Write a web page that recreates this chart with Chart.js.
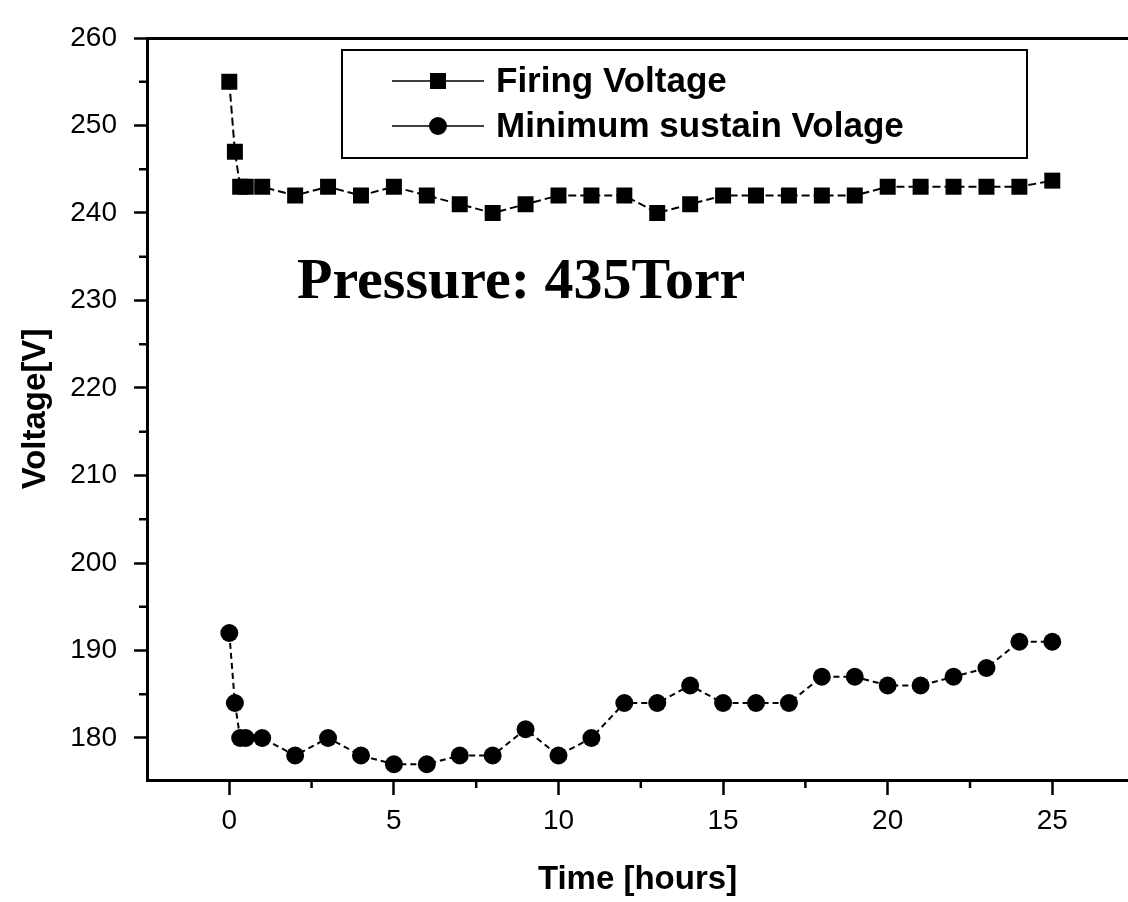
<!DOCTYPE html>
<html>
<head>
<meta charset="utf-8">
<script src="https://cdn.jsdelivr.net/npm/chart.js@4/dist/chart.umd.min.js"></script>
<style>
  html, body { margin: 0; padding: 0; background: #fff; overflow: hidden; }
  #wrap { width: 1128px; height: 902px; position: relative; }
  canvas { display: block; }
</style>
</head>
<body>
<div id="wrap"><canvas id="voltageChart"></canvas></div>
<script>
// time in hours
const hours = [0, 0.17, 0.33, 0.5, 1, 2, 3, 4, 5, 6, 7, 8, 9, 10, 11, 12, 13, 14, 15, 16, 17, 18, 19, 20, 21, 22, 23, 24, 25];
const firingVoltage = [255, 247, 243, 243, 243, 242, 243, 242, 243, 242, 241, 240, 241, 242, 242, 242, 240, 241, 242, 242, 242, 242, 242, 243, 243, 243, 243, 243, 243.7];
const sustainVoltage = [192, 184, 180, 180, 180, 178, 180, 178, 177, 177, 178, 178, 181, 178, 180, 184, 184, 186, 184, 184, 184, 187, 187, 186, 186, 187, 188, 191, 191];
const seriesNames = ['Firing Voltage', 'Minimum sustain Volage'];
const xMinorTicks = [2.5, 7.5, 12.5, 17.5, 22.5];
const yMinorTicks = [185, 195, 205, 215, 225, 235, 245, 255];
const noteText = 'Pressure: 435Torr';

const sans = '"Liberation Sans", Arial, sans-serif';
const serif = '"Liberation Serif", "Times New Roman", serif';

const toPoints = (xs, ys) => xs.map((x, i) => ({ x: x, y: ys[i] }));

// minor ticks, boxed legend and the pressure note
const extras = {
    id: 'extras',
    afterDraw(chart) {
        const ctx = chart.ctx;
        const xs = chart.scales.x, ys = chart.scales.y;
        ctx.save();
        ctx.strokeStyle = '#000';
        ctx.lineWidth = 2.5;
        xMinorTicks.forEach(v => {
            const px = xs.getPixelForValue(v);
            ctx.beginPath(); ctx.moveTo(px, xs.top); ctx.lineTo(px, xs.top + 8); ctx.stroke();
        });
        yMinorTicks.forEach(v => {
            const py = ys.getPixelForValue(v);
            ctx.beginPath(); ctx.moveTo(ys.right, py); ctx.lineTo(ys.right - 8, py); ctx.stroke();
        });

        // legend box
        ctx.lineWidth = 2;
        ctx.strokeRect(342, 50, 685, 108);
        chart.data.datasets.forEach((ds, i) => {
            const rowY = 81 + i * 45;
            ctx.lineWidth = 1.5;
            ctx.setLineDash([]);
            ctx.beginPath(); ctx.moveTo(392, rowY); ctx.lineTo(484, rowY); ctx.stroke();
            ctx.fillStyle = '#000';
            if (ds.pointStyle === 'rect') {
                ctx.fillRect(430, rowY - 8, 16, 16);
            } else {
                ctx.beginPath(); ctx.arc(438, rowY, 9, 0, Math.PI * 2); ctx.fill();
            }
            ctx.font = 'bold 35px ' + sans;
            ctx.textBaseline = 'middle';
            ctx.textAlign = 'left';
            ctx.fillText(ds.label, 496, rowY + 1);
        });

        ctx.font = 'bold 58px ' + serif;
        ctx.textBaseline = 'alphabetic';
        ctx.fillText(noteText, 297, 298);
        ctx.restore();
    }
};

new Chart(document.getElementById('voltageChart'), {
    type: 'line',
    data: {
        datasets: [{
            label: seriesNames[0],
            data: toPoints(hours, firingVoltage),
            borderColor: '#000',
            backgroundColor: '#000',
            borderWidth: 2,
            borderDash: [8, 4],
            pointStyle: 'rect',
            pointRadius: 11.3,
            pointBorderWidth: 0
        }, {
            label: seriesNames[1],
            data: toPoints(hours, sustainVoltage),
            borderColor: '#000',
            backgroundColor: '#000',
            borderWidth: 2,
            borderDash: [6, 4],
            pointStyle: 'circle',
            pointRadius: 9,
            pointBorderWidth: 0
        }]
    },
    options: {
        responsive: true,
        maintainAspectRatio: false,
        animation: false,
        layout: { padding: 0, autoPadding: false },
        plugins: {
            legend: { display: false },
            tooltip: { enabled: false }
        },
        scales: {
            x: {
                type: 'linear',
                position: 'bottom',
                min: -2.5,
                max: 27.3,
                afterFit: s => { s.height = 122; },
                border: { display: true, color: '#000', width: 3 },
                grid: { drawOnChartArea: false, tickLength: 15, tickWidth: 2.5, tickColor: '#000' },
                ticks: {
                    stepSize: 5,
                    includeBounds: false,
                    padding: 9,
                    color: '#000',
                    font: { family: sans, size: 28 }
                },
                title: {
                    display: true,
                    text: 'Time [hours]',
                    color: '#000',
                    font: { family: sans, size: 33, weight: 'bold' },
                    padding: { top: 0, bottom: 2 }
                }
            },
            xTop: {
                type: 'linear',
                position: 'top',
                min: -2.5,
                max: 27.3,
                afterFit: s => { s.height = 38; },
                border: { display: true, color: '#000', width: 3 },
                grid: { drawOnChartArea: false, drawTicks: false },
                ticks: { display: false }
            },
            y: {
                type: 'linear',
                min: 175.2,
                max: 260,
                afterFit: s => { s.width = 147; },
                border: { display: true, color: '#000', width: 3 },
                grid: { drawOnChartArea: false, tickLength: 13, tickWidth: 2.5, tickColor: '#000' },
                ticks: {
                    stepSize: 10,
                    includeBounds: false,
                    padding: 17,
                    color: '#000',
                    font: { family: sans, size: 28 }
                },
                title: {
                    display: true,
                    text: 'Voltage[V]',
                    color: '#000',
                    font: { family: sans, size: 33, weight: 'bold' },
                    padding: { top: 16, bottom: 0 }
                }
            }
        }
    },
    plugins: [extras]
});
</script>
</body>
</html>
